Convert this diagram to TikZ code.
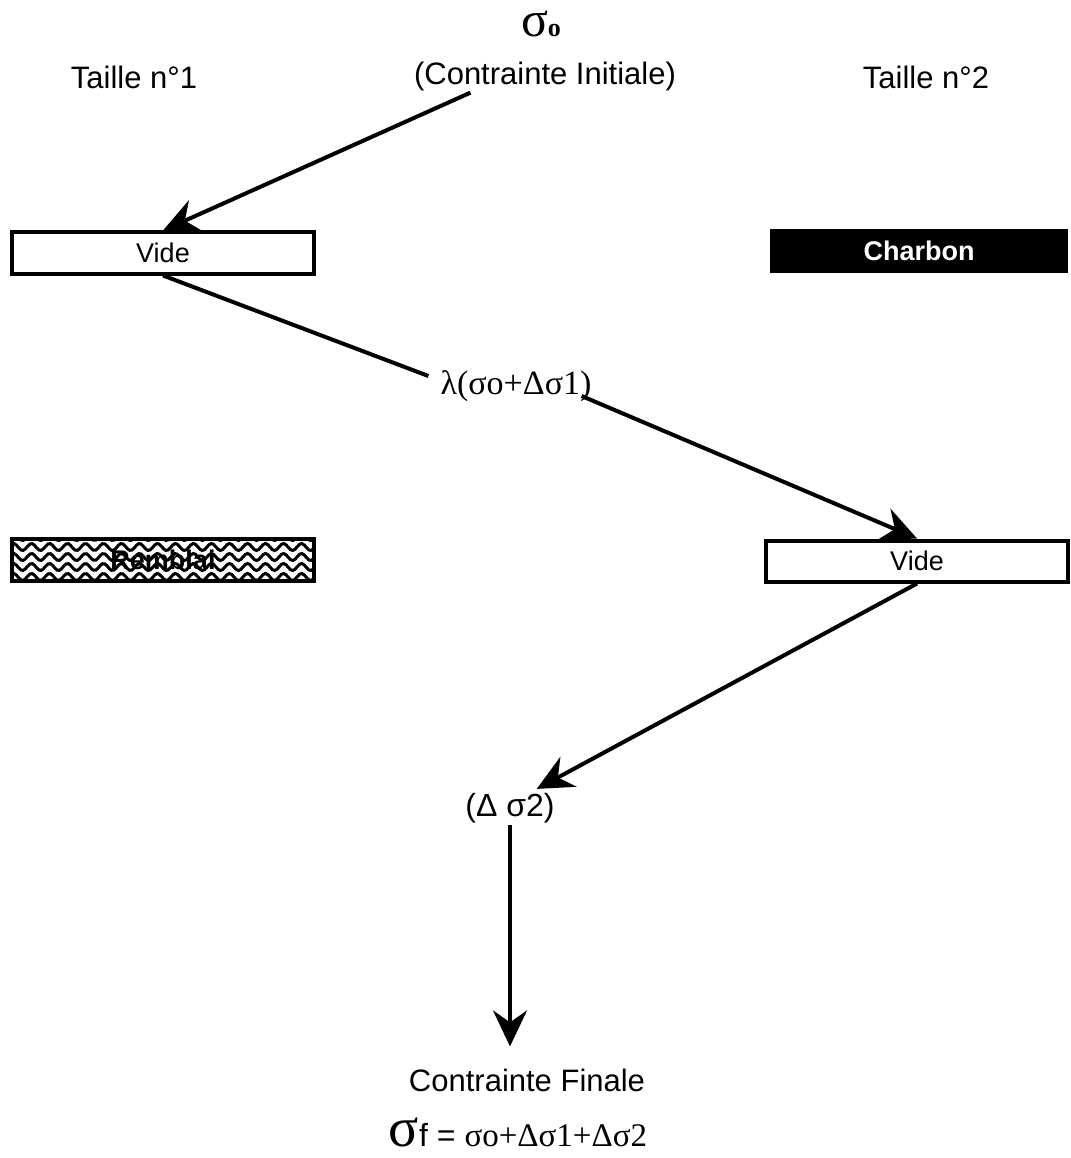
\documentclass[tikz,border=0pt]{standalone}
\usepackage{fontspec}
\setmainfont{Liberation Sans}
\newfontfamily\serifgr{Liberation Serif}
\usetikzlibrary{arrows.meta,calc}
\newcommand{\fs}[1]{\fontsize{#1}{#1}\selectfont}
\begin{document}
\begin{tikzpicture}[x=1pt,y=-1pt,
  lbl/.style={inner sep=2pt, font=\fs{31}},
  boxw/.style={draw=black, line width=4pt, fill=white, minimum width=302pt, minimum height=41pt, inner sep=0pt, font=\fs{27}},
  conn/.style={line width=4pt},
  arr/.style={conn, -{Stealth[length=36pt,width=34pt,inset=12pt]}}
]
\useasboundingbox (0,0) rectangle (1070,1158);

% top labels
\node[inner sep=0pt, anchor=base] (s0) at (541,37) {{\serifgr\fs{50}σ}{\serifgr\bfseries\fs{26}o}};
\node[lbl] (ci) at (545,76) {(Contrainte Initiale)};
\node[lbl] (t1) at (134,77) {Taille n°1};
\node[lbl] (t2) at (926,77) {Taille n°2};

% boxes
\node[boxw] (v1) at (163,253) {Vide};
\node[fill=black, text=white, minimum width=298pt, minimum height=44pt, inner sep=0pt, font=\bfseries\fs{27}] (ch) at (919,251) {Charbon};

% Remblai (hatched box)
\begin{scope}
  \clip (12,539) rectangle (314,581);
  \fill[white] (12,539) rectangle (314,581);
  \foreach \r in {0,...,4}{
    \draw[line width=3pt] plot[domain=5:320, samples=140, smooth] (\x, {537 + \r*10 + 3.5*sin(\x*20)});
  }
\end{scope}
\node[draw=black, line width=4pt, minimum width=302pt, minimum height=42pt, inner sep=0pt, font=\bfseries\fs{27}] (rb) at (163,560) {Remblai};

\node[boxw] (v2) at (917,561) {Vide};

% middle labels
\node[inner sep=2pt, font=\serifgr\fs{34}] (lam) at (516,386) {λ(σo+Δσ1)};
\node[lbl, font=\fs{32}] (ds2) at (510,808) {(Δ σ2)};

% bottom
\node[lbl] (cf) at (527,1080) {Contrainte Finale};
\node[inner sep=2pt] (sf) at (518,1132) {{\serifgr\fs{56}σ}{\fs{32}f = }{\serifgr\fs{33}σo+Δσ1+Δσ2}};

% connectors
\draw[arr] ($(ci.south west)!0.22!(ci.south east)$) -- (v1.north);
\draw[conn] (v1.south) -- ($(lam.west)+(-10,-10)$);
\draw[arr] ($(lam.east)+(-12,10)$) -- (v2.north);
\draw[arr] (v2.south) -- ($(ds2.north east)+(-20,-2)$);
\draw[arr] (ds2.south) -- ($(ds2.south |- cf.north)+(0,-20)$);
\end{tikzpicture}
\end{document}
